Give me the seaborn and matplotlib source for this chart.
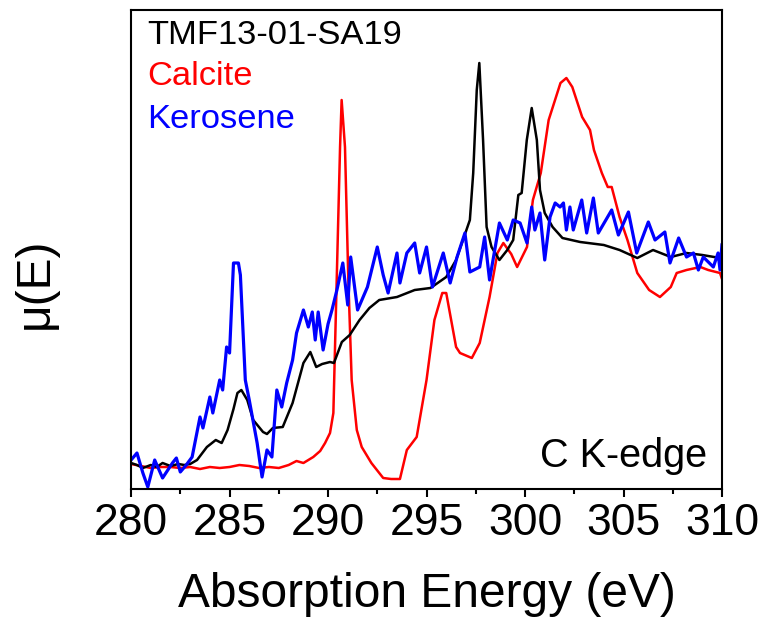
import matplotlib
matplotlib.use("Agg")
import matplotlib.pyplot as plt
from matplotlib.ticker import MultipleLocator
import seaborn as sns

# C K-edge XANES (arbitrary units)
sample_E = [280.0, 280.3, 280.6, 281.0, 281.3, 281.6, 282.0, 282.4, 282.7, 283.0,
            283.35, 283.85, 284.3, 284.6, 284.9, 285.2, 285.4, 285.6, 285.9, 286.2,
            286.7, 286.9, 287.2, 287.7, 288.2, 288.75, 289.1, 289.4, 289.7, 290.1,
            290.3, 290.7, 291.1, 291.6, 292.1, 292.6, 293.5, 294.4, 295.2, 296.0,
            296.5, 296.85, 297.2, 297.37, 297.55, 297.68, 297.87, 298.05, 298.3, 298.7,
            299.1, 299.4, 299.66, 299.83, 300.09, 300.34, 300.6, 300.76, 301.0, 301.4,
            301.9, 302.8, 304.0, 304.8, 305.7, 306.5, 307.4, 308.2, 309.0, 309.9, 310.0]
sample_mu = [26, 24, 21, 24, 22, 26, 23, 25, 24, 25,
             29, 42, 49, 46, 59, 80, 96, 99, 89, 69,
             57, 55, 61, 62, 86, 126, 137, 122, 125, 127,
             126, 147, 154, 169, 181, 189, 192, 199, 201, 212,
             229, 249, 269, 316, 399, 426, 349, 262, 242, 229,
             239, 249, 294, 296, 349, 381, 349, 299, 276, 262,
             251, 247, 244, 239, 231, 239, 232, 236, 234, 231, 230]

calcite_E = [280.0, 280.5, 281.0, 281.5, 282.0, 282.5, 283.0, 283.5, 284.0, 284.5,
             285.0, 285.5, 286.0, 286.5, 287.0, 287.5, 288.0, 288.4, 288.75, 289.25,
             289.6, 289.85, 290.1, 290.27, 290.44, 290.61, 290.69, 290.86, 291.03, 291.2,
             291.46, 291.71, 292.2, 292.8, 293.2, 293.65, 294.0, 294.5, 295.0, 295.4,
             295.8, 296.0, 296.5, 296.7, 297.3, 297.7, 298.2, 298.6, 298.9, 299.3,
             299.6, 300.1, 300.4, 300.8, 301.2, 301.8, 302.1, 302.4, 302.9, 303.3,
             303.5, 303.9, 304.2, 304.4, 304.8, 305.2, 305.7, 306.3, 306.85, 307.4,
             307.7, 308.2, 308.9, 309.3, 309.9, 310.0]
calcite_mu = [25, 23, 21, 22, 22, 21, 22, 20, 22, 21,
              22, 24, 23, 21, 22, 21, 24, 28, 26, 32,
              38, 46, 56, 76, 209, 342, 389, 342, 209, 109,
              59, 42, 26, 11, 10, 10, 39, 52, 109, 169,
              196, 196, 142, 136, 131, 146, 192, 236, 246, 235,
              222, 242, 289, 316, 369, 406, 411, 402, 372, 359,
              339, 316, 302, 302, 272, 249, 216, 199, 192, 202,
              216, 219, 222, 219, 216, 210]

kerosene_E = [280.0, 280.3, 280.6, 280.85, 281.2, 281.6, 282.1, 282.3, 282.5, 282.8,
              283.1, 283.5, 283.65, 284.0, 284.15, 284.5, 284.65, 284.85, 285.0, 285.2,
              285.45, 285.55, 285.8, 286.0, 286.4, 286.65, 286.9, 287.15, 287.4, 287.65,
              287.9, 288.2, 288.4, 288.75, 289.0, 289.2, 289.35, 289.5, 289.75, 290.0,
              290.2, 290.45, 290.75, 291.0, 291.15, 291.5, 292.0, 292.5, 292.8, 293.05,
              293.5, 293.65, 294.0, 294.4, 294.65, 295.0, 295.3, 295.85, 296.2, 296.55,
              296.95, 297.2, 297.7, 297.95, 298.2, 298.7, 299.1, 299.4, 299.75, 300.1,
              300.34, 300.5, 300.76, 301.0, 301.27, 301.53, 301.78, 301.95, 302.1, 302.28,
              302.45, 302.88, 303.13, 303.47, 303.72, 304.4, 304.74, 305.25, 305.67, 306.26,
              306.6, 307.1, 307.36, 307.8, 308.2, 308.55, 308.8, 309.05, 309.56, 309.8,
              309.9, 310.0]
kerosene_mu = [29, 36, 16, 2, 29, 11, 26, 31, 17, 24,
               32, 72, 61, 92, 76, 109, 99, 142, 136, 226,
               226, 214, 109, 89, 46, 12, 39, 32, 99, 82,
               106, 129, 156, 179, 162, 177, 149, 177, 139, 165,
               179, 199, 226, 184, 232, 179, 202, 242, 214, 196,
               236, 206, 236, 246, 216, 242, 202, 236, 206, 232,
               256, 217, 222, 252, 209, 266, 249, 269, 266, 246,
               282, 259, 276, 229, 272, 286, 282, 286, 259, 282,
               259, 289, 256, 291, 256, 279, 254, 277, 236, 267,
               249, 257, 226, 251, 232, 236, 219, 232, 222, 236,
               219, 245]

sns.set_style("white")
plt.rcParams['font.family'] = ['Liberation Sans', 'DejaVu Sans']
plt.rcParams['text.color'] = 'black'
plt.rcParams['axes.labelcolor'] = 'black'
plt.rcParams['xtick.color'] = 'black'

fig, ax = plt.subplots(figsize=(7.62, 6.25), dpi=100)
fig.subplots_adjust(left=0.172, right=0.9475, top=0.984, bottom=0.2176)

sns.lineplot(x=calcite_E, y=calcite_mu, color='#ff0000', linewidth=1.8, ax=ax)
sns.lineplot(x=sample_E, y=sample_mu, color='black', linewidth=1.8, ax=ax)
sns.lineplot(x=kerosene_E, y=kerosene_mu, color='#0000ff', linewidth=2.3, ax=ax)

ax.set_xlim(280, 310)
ax.set_ylim(0, 479)
ax.set_yticks([])
ax.xaxis.set_major_locator(MultipleLocator(5))
ax.xaxis.set_minor_locator(MultipleLocator(2.5))
ax.tick_params(axis='x', which='major', direction='out', length=6, width=1.5,
               labelsize=32, pad=4, bottom=True, colors='black')
ax.tick_params(axis='x', which='minor', direction='out', length=3.5, width=1.5, bottom=True)
for s in ax.spines.values():
    s.set_linewidth(1.5)
    s.set_color('black')

ax.set_xlabel("Absorption Energy (eV)", fontsize=34.5, labelpad=20)
ax.set_ylabel("μ(E)", fontsize=34.5)
ax.yaxis.set_label_coords(-0.124, 0.43)

ax.text(0.027, 0.929, "TMF13-01-SA19", color='black', fontsize=24.8, transform=ax.transAxes, va='baseline')
ax.text(0.027, 0.843, "Calcite", color='#ff0000', fontsize=24.8, transform=ax.transAxes, va='baseline')
ax.text(0.027, 0.754, "Kerosene", color='#0000ff', fontsize=24.8, transform=ax.transAxes, va='baseline')
ax.text(0.9746, 0.046, "C K-edge", color='black', fontsize=28.5, transform=ax.transAxes,
        va='baseline', ha='right')

fig.savefig("out.png", dpi=100)
